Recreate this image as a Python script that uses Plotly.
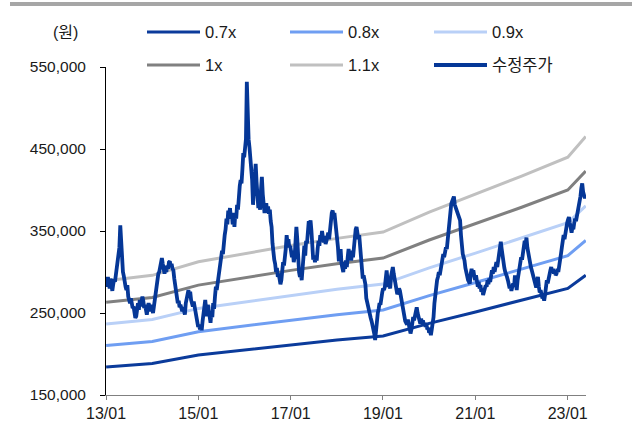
import pandas as pd
import plotly.graph_objects as go

# ---- data -------------------------------------------------------------
# Adjusted share price (KRW), weekly closes from 2013-01-02
adj_price = [
    290000, 282000, 294000, 286000, 280000, 292000, 283000, 277000, 285000, 291000,
    288000, 296000, 300000, 308000, 318000, 330000, 357000, 335000, 318000, 300000,
    295000, 284000, 282000, 278000, 284000, 270000, 266000, 262000, 268000, 260000,
    256000, 258000, 250000, 244000, 246000, 255000, 262000, 254000, 266000, 258000,
    262000, 270000, 265000, 256000, 260000, 250000, 248000, 256000, 262000, 258000,
    252000, 260000, 254000, 250000, 258000, 268000, 275000, 285000, 292000, 298000,
    300000, 306000, 312000, 317000, 310000, 302000, 298000, 306000, 300000, 308000,
    304000, 312000, 313000, 306000, 310000, 304000, 302000, 292000, 285000, 276000,
    268000, 262000, 265000, 257000, 260000, 256000, 252000, 257000, 250000, 248000,
    262000, 270000, 276000, 278000, 270000, 276000, 266000, 262000, 258000, 264000,
    257000, 250000, 244000, 238000, 233000, 236000, 230000, 234000, 229000, 240000,
    252000, 262000, 266000, 255000, 246000, 260000, 250000, 240000, 238000, 252000,
    245000, 262000, 255000, 270000, 282000, 278000, 285000, 292000, 300000, 310000,
    318000, 326000, 322000, 338000, 345000, 352000, 365000, 358000, 375000, 370000,
    378000, 365000, 372000, 358000, 366000, 355000, 372000, 365000, 382000, 376000,
    395000, 405000, 412000, 408000, 425000, 445000, 440000, 452000, 462000, 532000,
    470000, 462000, 452000, 440000, 430000, 412000, 382000, 400000, 425000, 432000,
    410000, 392000, 378000, 385000, 376000, 400000, 416000, 395000, 380000, 372000,
    378000, 384000, 372000, 380000, 371000, 376000, 362000, 355000, 335000, 322000,
    315000, 310000, 300000, 305000, 294000, 298000, 288000, 285000, 290000, 300000,
    312000, 308000, 315000, 328000, 345000, 335000, 340000, 330000, 332000, 325000,
    318000, 326000, 312000, 318000, 345000, 355000, 340000, 312000, 300000, 294000,
    298000, 290000, 305000, 325000, 332000, 320000, 338000, 335000, 352000, 362000,
    355000, 363000, 350000, 330000, 315000, 320000, 312000, 318000, 314000, 328000,
    338000, 332000, 345000, 340000, 350000, 342000, 336000, 344000, 334000, 338000,
    345000, 348000, 340000, 352000, 365000, 372000, 375000, 368000, 372000, 362000,
    355000, 347000, 330000, 313000, 318000, 328000, 310000, 306000, 300000, 312000,
    304000, 314000, 306000, 318000, 328000, 318000, 322000, 314000, 326000, 318000,
    332000, 345000, 352000, 355000, 348000, 340000, 345000, 330000, 310000, 298000,
    292000, 296000, 290000, 285000, 268000, 262000, 258000, 250000, 248000, 244000,
    240000, 236000, 232000, 225000, 217000, 228000, 245000, 250000, 255000, 262000,
    260000, 272000, 275000, 280000, 278000, 282000, 292000, 302000, 290000, 282000,
    284000, 280000, 295000, 305000, 306000, 298000, 290000, 284000, 278000, 273000,
    275000, 280000, 277000, 270000, 265000, 258000, 250000, 246000, 240000, 238000,
    236000, 242000, 235000, 228000, 225000, 230000, 238000, 245000, 241000, 246000,
    252000, 257000, 250000, 246000, 240000, 237000, 243000, 238000, 241000, 236000,
    238000, 233000, 236000, 230000, 232000, 226000, 228000, 223000, 230000, 238000,
    245000, 262000, 275000, 288000, 290000, 294000, 300000, 296000, 303000, 306000,
    312000, 322000, 318000, 326000, 330000, 328000, 340000, 355000, 368000, 375000,
    383000, 386000, 391000, 392000, 382000, 379000, 375000, 372000, 368000, 366000,
    363000, 345000, 330000, 322000, 318000, 314000, 305000, 298000, 295000, 290000,
    288000, 286000, 298000, 304000, 296000, 302000, 295000, 290000, 296000, 286000,
    282000, 288000, 280000, 284000, 276000, 280000, 272000, 276000, 280000, 284000,
    282000, 290000, 285000, 292000, 288000, 296000, 302000, 298000, 306000, 300000,
    308000, 312000, 306000, 315000, 325000, 332000, 337000, 328000, 318000, 312000,
    305000, 300000, 298000, 294000, 290000, 285000, 280000, 284000, 277000, 282000,
    286000, 282000, 296000, 288000, 278000, 290000, 298000, 308000, 313000, 318000,
    315000, 322000, 330000, 338000, 334000, 342000, 330000, 322000, 316000, 310000,
    306000, 302000, 298000, 292000, 288000, 284000, 281000, 290000, 294000, 282000,
    275000, 278000, 272000, 268000, 270000, 265000, 272000, 280000, 290000, 286000,
    294000, 298000, 302000, 306000, 300000, 304000, 298000, 302000, 296000, 298000,
    304000, 300000, 306000, 310000, 322000, 330000, 338000, 345000, 340000, 350000,
    355000, 360000, 364000, 367000, 360000, 352000, 348000, 355000, 352000, 360000,
    365000, 362000, 368000, 372000, 378000, 383000, 392000, 402000, 408000, 398000,
    395000, 390000, 394000,
]
price_start = "2013-01-02"

# Book value per share at each reference date (KRW)
band_dates = [
    "2013-01-02", "2014-01-02", "2015-01-02", "2016-01-02", "2017-01-02",
    "2018-01-02", "2019-01-02", "2020-01-02", "2021-01-02", "2022-01-02",
    "2023-01-02", "2023-05-24",
]
bps = [263000, 269000, 284000, 293000, 302000, 310000, 317000,
       339000, 359000, 379000, 400000, 423000]

# P/B multiples shown as bands
multiples = [0.7, 0.8, 0.9, 1.0, 1.1]
band_labels = ["0.7x", "0.8x", "0.9x", "1x", "1.1x"]
price_label = "수정주가"
unit_label = "(원)"

x_ticks = ["2013-01-01", "2015-01-01", "2017-01-01", "2019-01-01",
           "2021-01-01", "2023-01-01"]
x_tick_text = ["13/01", "15/01", "17/01", "19/01", "21/01", "23/01"]
y_ticks = [150000, 250000, 350000, 450000, 550000]

# ---- styling ----------------------------------------------------------
band_colors = ["#0b3b9b", "#6f9ef2", "#b9d0f7", "#808080", "#c0c0c0"]
price_color = "#053797"
FONT = "Liberation Sans, Arial, Noto Sans CJK KR, sans-serif"
TEXT = "#1a1a1a"

W, H = 632, 441
L, R, T, B = 106, 46, 67, 46
PW, PH = W - L - R, H - T - B


def px(xp):
    return (xp - L) / PW


def py(yp):
    return (H - B - yp) / PH


price_dates = pd.date_range(price_start, periods=len(adj_price), freq="7D")

fig = go.Figure()
for m, lab, col in zip(multiples, band_labels, band_colors):
    fig.add_trace(go.Scatter(
        x=band_dates, y=[b * m for b in bps], mode="lines", name=lab,
        line=dict(color=col, width=3), showlegend=False,
    ))
fig.add_trace(go.Scatter(
    x=price_dates, y=adj_price, mode="lines", name=price_label,
    line=dict(color=price_color, width=3.8), showlegend=False,
))

# ---- legend drawn as shapes + text ------------------------------------
shapes = []
annotations = []
legend_items = list(zip(band_labels, band_colors, [3] * 5)) + [(price_label, price_color, 4)]
col_x = [147, 290, 434]
row_y = [32, 65]
for i, (lab, col, w) in enumerate(legend_items):
    x0 = col_x[i % 3]
    y0 = row_y[i // 3]
    shapes.append(dict(type="line", xref="paper", yref="paper",
                       x0=px(x0), x1=px(x0 + 53), y0=py(y0), y1=py(y0),
                       line=dict(color=col, width=w)))
    annotations.append(dict(text=lab, xref="paper", yref="paper",
                            x=px(x0 + 56), y=py(y0), xanchor="left", yanchor="middle",
                            showarrow=False, font=dict(family=FONT, size=16.5, color=TEXT)))
annotations.append(dict(text=unit_label, xref="paper", yref="paper",
                        x=px(65), y=py(33), xanchor="center", yanchor="middle",
                        showarrow=False, font=dict(family=FONT, size=16, color=TEXT)))

# grey rule along the top of the page
shapes.append(dict(type="rect", xref="paper", yref="paper",
                   x0=px(10), x1=px(W), y0=py(2), y1=py(6),
                   fillcolor="#a6a6a6", line=dict(width=0), layer="above"))

fig.update_layout(
    width=W, height=H,
    margin=dict(l=L, r=R, t=T, b=B, pad=0),
    paper_bgcolor="white", plot_bgcolor="white",
    font=dict(family=FONT, size=16, color=TEXT),
    shapes=shapes, annotations=annotations,
    showlegend=False,
)
fig.update_xaxes(
    type="date", range=["2013-01-01", "2023-05-26"],
    tickvals=x_ticks, ticktext=x_tick_text,
    showgrid=False, zeroline=False,
    showline=True, linecolor="#808080", linewidth=1,
    ticks="outside", ticklen=4, tickcolor="#808080",
    tickfont=dict(family=FONT, size=16, color=TEXT),
)
fig.update_yaxes(
    range=[150000, 550000], tickvals=y_ticks, tickformat=",d",
    showgrid=False, zeroline=False,
    showline=True, linecolor="#000000", linewidth=1,
    ticks="outside", ticklen=5, tickcolor="#000000",
    ticklabelstandoff=11,
    tickfont=dict(family=FONT, size=15.5, color=TEXT),
)

fig.write_html("out.html")
